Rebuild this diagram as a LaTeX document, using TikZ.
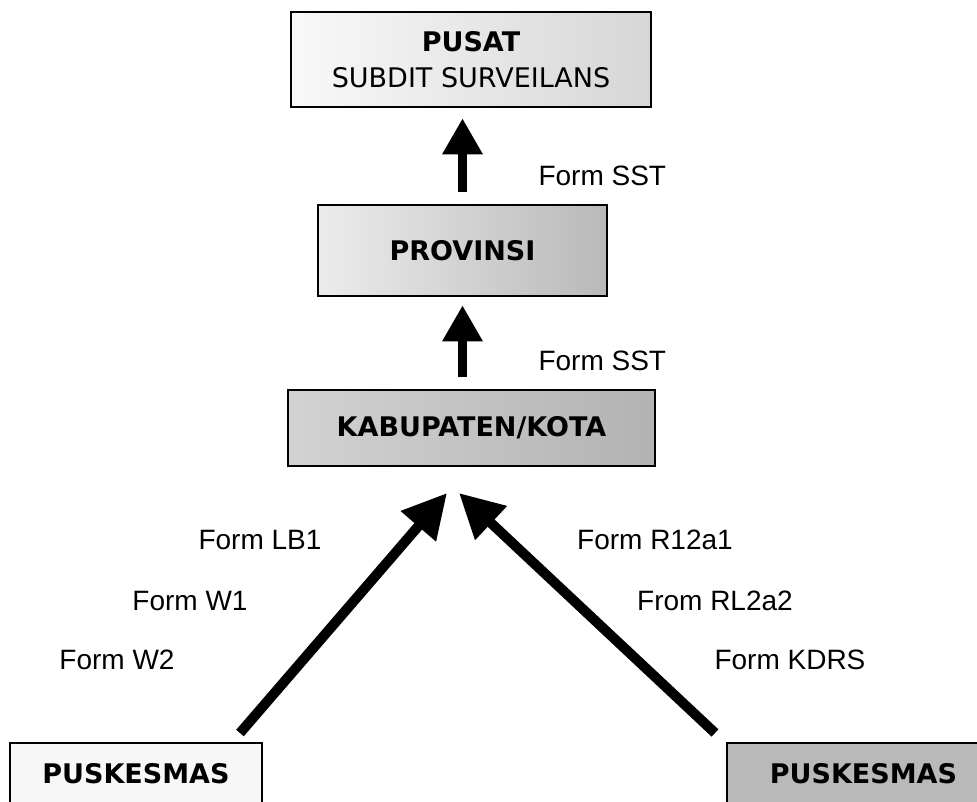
\documentclass[tikz,border=0pt]{standalone}
\usepackage{fontspec}
\setmainfont{Liberation Sans}
\newfontfamily\boxfont{DejaVu Sans}
\usetikzlibrary{arrows.meta,positioning}

\begin{document}
\begin{tikzpicture}[x=1pt, y=-1pt, every node/.style={font=\fontsize{28}{32}\selectfont},
  box/.style={draw, line width=2.5pt, align=center, inner sep=0pt,
    font=\boxfont\fontsize{27}{36}\selectfont},
  arr/.style={-{Triangle[length=36pt,width=38pt]}, line width=9pt},
  darr/.style={-{Triangle[length=44pt,width=44pt]}, line width=10pt}]
\useasboundingbox (0,0) rectangle (977,801);
\clip (0,0) rectangle (977,801);
% levels
\node[box, minimum width=360pt, minimum height=95pt, left color=gray!5, right color=gray!32]
  (pusat) at (471,59.5) {\textbf{PUSAT}\\SUBDIT SURVEILANS};
\node[box, minimum width=289pt, minimum height=91pt, left color=gray!15, right color=gray!55]
  (prov) at (462.5,250.5) {\textbf{PROVINSI}};
\node[box, minimum width=367pt, minimum height=76pt, left color=gray!35, right color=gray!60]
  (kab) at (471.5,428) {\textbf{KABUPATEN/KOTA}};
\node[box, minimum width=252pt, minimum height=62pt, fill=gray!6]
  (puskL) at (136,774) {\textbf{PUSKESMAS}};
\node[box, minimum width=273pt, minimum height=62pt, fill=gray!55]
  (puskR) at (863.5,774) {\textbf{PUSKESMAS}};
% reports going up
\draw[arr, shorten <=12pt, shorten >=10pt] (prov.north) -- (prov.north |- pusat.south);
\draw[arr, shorten <=12pt, shorten >=8pt] (kab.north -| prov.north) -- (prov.south);
\node[anchor=west] (sst1) at (535,176) {Form SST};
\node[anchor=west] (sst2) at (535,361) {Form SST};
\coordinate (tailL) at (240,733);
\coordinate (tipL) at (447,493);
\coordinate (tailR) at (715,733);
\coordinate (tipR) at (459,493);
\draw[darr] (tailL) -- (tipL);
\draw[darr] (tailR) -- (tipR);
\node (lb1) at (260,540) {Form LB1};
\node (w1) at (190,601) {Form W1};
\node (w2) at (117,660) {Form W2};
\node (r12) at (655,540) {Form R12a1};
\node (rl2) at (715,601) {From RL2a2};
\node (kdrs) at (790,660) {Form KDRS};
\end{tikzpicture}
\end{document}
